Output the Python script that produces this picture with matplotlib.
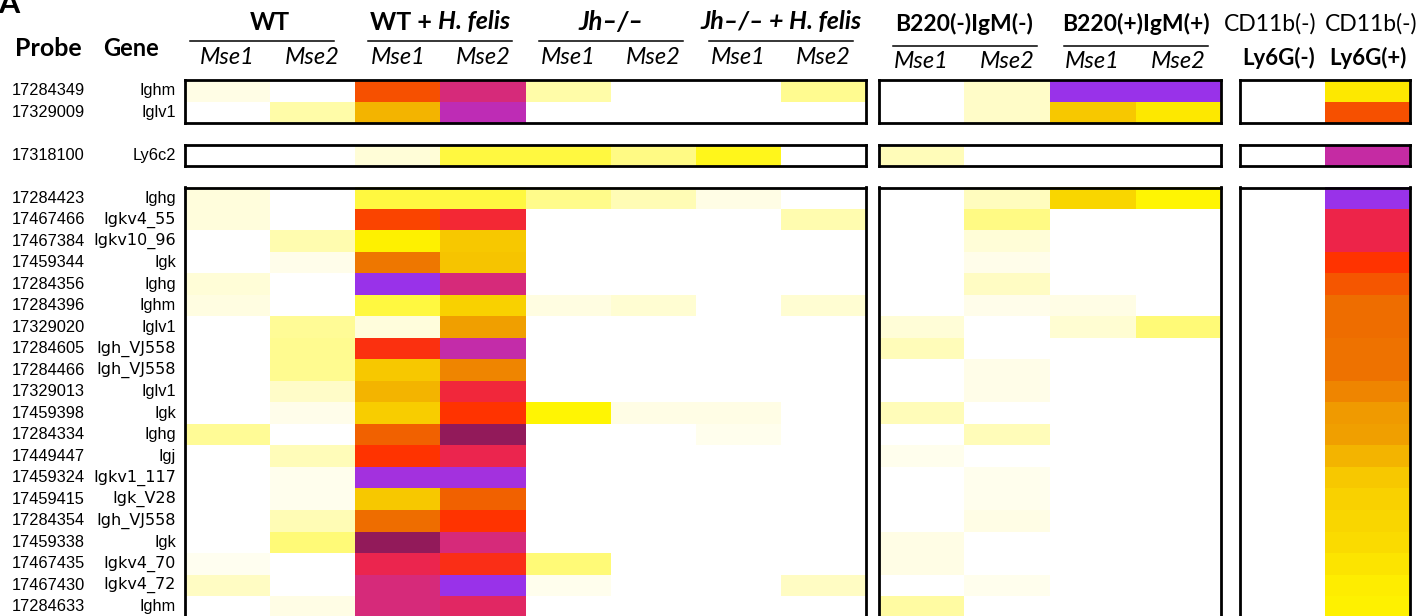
import numpy as np
import matplotlib
matplotlib.use("Agg")
import matplotlib.pyplot as plt
from matplotlib.colors import LinearSegmentedColormap, Normalize

W, H = 1420, 616

# --- data -------------------------------------------------------------
probes_top = ["17284349", "17329009"]
genes_top = ["Ighm", "Iglv1"]
probes_mid = ["17318100"]
genes_mid = ["Ly6c2"]
probes_bot = ["17284423", "17467466", "17467384", "17459344", "17284356",
              "17284396", "17329020", "17284605", "17284466", "17329013",
              "17459398", "17284334", "17449447", "17459324", "17459415",
              "17284354", "17459338", "17467435", "17467430", "17284633"]
genes_bot = ["Ighg", "Igkv4_55", "Igkv10_96", "Igk", "Ighg",
             "Ighm", "Iglv1", "Igh_VJ558", "Igh_VJ558", "Iglv1",
             "Igk", "Ighg", "Igj", "Igkv1_117", "Igk_V28",
             "Igh_VJ558", "Igk", "Igkv4_70", "Igkv4_72", "Ighm"]

samples = ["Mse1", "Mse2"]
cd11b_top = ["CD11b(-)", "CD11b(-)"]
cd11b_bottom = ["Ly6G(-)", "Ly6G(+)"]

# columns: WT1 WT2 WH1 WH2 J1 J2 JH1 JH2 B-1 B-2 B+1 B+2 L- L+
vals_top = [
    [1.0, 0, 7.5, 10.0, 2.2, 0, 0, 2.6, 0, 1.6, 12.0, 12.0, 0, 4.3],
    [0, 2.2, 5.5, 11.0, 0, 0, 0, 0, 0, 1.6, 5.0, 4.3, 0, 7.5],
]
vals_mid = [
    [0, 0, 1.3, 3.5, 3.5, 2.8, 3.8, 0, 1.9, 0, 0, 0, 0, 10.7],
]
vals_bot = [
    [1.2, 0, 3.5, 3.5, 2.7, 2.0, 1.0, 0, 0, 1.8, 4.7, 4.0, 0, 12.0],
    [1.2, 0, 7.7, 8.7, 0, 0, 0, 2.1, 0, 2.8, 0, 0, 0, 9.0],
    [0, 2.1, 4.1, 5.0, 0, 0, 0, 0, 0, 1.3, 0, 0, 0, 9.0],
    [0, 0.8, 6.8, 5.1, 0, 0, 0, 0, 0, 0.8, 0, 0, 0, 8.0],
    [1.3, 0, 12.0, 10.0, 0, 0, 0, 0, 0, 1.7, 0, 0, 0, 7.4],
    [1.1, 0, 3.5, 4.8, 1.1, 1.4, 0, 1.4, 0, 0.8, 1.0, 0, 0, 7.0],
    [0, 2.5, 1.2, 6.0, 0, 0, 0, 0, 1.3, 0, 1.4, 3.0, 0, 7.0],
    [0, 2.6, 8.2, 10.8, 0, 0, 0, 0, 1.9, 0, 0, 0, 0, 6.9],
    [0, 2.6, 5.0, 6.5, 0, 0, 0, 0, 0, 0.9, 0, 0, 0, 6.9],
    [0, 1.6, 5.5, 8.8, 0, 0, 0, 0, 0, 0.9, 0, 0, 0, 6.5],
    [0, 0.8, 4.9, 8.0, 4.0, 1.0, 1.0, 0, 1.9, 0, 0, 0, 0, 6.1],
    [2.5, 0, 7.2, 13.0, 0, 0, 0.7, 0, 0, 1.9, 0, 0, 0, 6.0],
    [0, 1.9, 8.0, 9.1, 0, 0, 0, 0, 0.7, 0, 0, 0, 0, 5.5],
    [0, 0.7, 11.7, 11.7, 0, 0, 0, 0, 0, 0.7, 0, 0, 0, 5.0],
    [0, 0.7, 5.0, 7.2, 0, 0, 0, 0, 0, 0.7, 0, 0, 0, 4.8],
    [0, 2.0, 7.0, 8.0, 0, 0, 0, 0, 0, 1.0, 0, 0, 0, 4.7],
    [0, 3.0, 13.0, 10.0, 0, 0, 0, 0, 1.0, 0, 0, 0, 0, 4.6],
    [0.6, 0, 9.1, 8.3, 3.0, 0, 0, 0, 1.0, 0, 0, 0, 0, 4.4],
    [1.7, 0, 10.0, 12.0, 0.7, 0, 0, 1.7, 0, 0.7, 0, 0, 0, 4.2],
    [0, 1.0, 10.0, 9.5, 0, 0, 0, 0, 2.3, 0, 0, 0, 0, 4.1],
]

# colour scale: white -> yellow -> orange -> red -> magenta -> purple -> maroon
scale_colors = ["#FFFFFF", "#FFFDE4", "#FFFCB4", "#FFFA78", "#FFF500",
                "#F7C800", "#F0A000", "#EE6C00", "#FF3300", "#EE2448",
                "#D62A7A", "#BE2CB4", "#9933EE", "#921A5A"]
cmap = LinearSegmentedColormap.from_list(
    "heat", [(i / (len(scale_colors) - 1), c) for i, c in enumerate(scale_colors)])
norm = Normalize(0, len(scale_colors) - 1)

# --- layout (pixels) --------------------------------------------------
RH = 21.5
Y0 = 80
panels = [(185, 866, slice(0, 8)), (879, 1221, slice(8, 12)), (1240, 1410, slice(12, 14))]
blocks = [(0, vals_top, probes_top, genes_top),
          (3, vals_mid, probes_mid, genes_mid),
          (5, vals_bot, probes_bot, genes_bot)]

HEAD = ["Lato", "DejaVu Sans"]
LAB = ["Liberation Sans", "DejaVu Sans"]

fig = plt.figure(figsize=(W / 100, H / 100), dpi=100)
fig.patch.set_facecolor("white")
tx = fig.add_axes([0, 0, 1, 1])
tx.set_xlim(0, W)
tx.set_ylim(H, 0)
tx.axis("off")

for start, vals, probes, genes in blocks:
    arr = np.array(vals)
    y_top = Y0 + start * RH
    y_bot = y_top + len(vals) * RH
    for x0, x1, sl in panels:
        ax = fig.add_axes([x0 / W, 1 - y_bot / H, (x1 - x0) / W, (y_bot - y_top) / H])
        ax.pcolormesh(arr[:, sl], cmap=cmap, norm=norm)
        ax.set_ylim(len(vals), 0)
        ax.set_xticks([])
        ax.set_yticks([])
        for s in ax.spines.values():
            s.set_linewidth(2.0)
            s.set_color("black")
        if start == 5:
            ax.spines["bottom"].set_visible(False)
    for i, (p, g) in enumerate(zip(probes, genes)):
        yc = y_top + (i + 0.5) * RH
        tx.text(12, yc, p, fontsize=11.8, family=LAB, va="center", ha="left")
        if "_" in g:
            tx.text(176, yc, g, fontsize=11.5, family=["DejaVu Sans"], va="center", ha="right")
        else:
            tx.text(176, yc, g, fontsize=11.8, family=LAB, va="center", ha="right")

renderer = fig.canvas.get_renderer()


def rich_text(xc, y, parts, size):
    objs = []
    for s, style in parts:
        objs.append(tx.text(0, y, s, fontsize=size, fontweight="bold", fontstyle=style,
                            family=HEAD, va="center", ha="left"))
    widths = [t.get_window_extent(renderer).width for t in objs]
    x = xc - sum(widths) / 2
    for t, w in zip(objs, widths):
        t.set_x(x)
        x += w


# top-left letters
tx.text(-2, 13, "A", fontsize=22, fontweight="bold", family=HEAD, va="baseline", ha="left")
tx.text(48, 48, "Probe", fontsize=18, fontweight="bold", family=HEAD, va="center", ha="center")
tx.text(131, 48, "Gene", fontsize=17, fontweight="bold", family=HEAD, va="center", ha="center")

group_parts = [
    [("WT", "normal")],
    [("WT + ", "normal"), ("H. felis", "italic")],
    [("Jh–/–", "italic")],
    [("Jh–/– + H. felis", "italic")],
    [("B220(-)IgM(-)", "normal")],
    [("B220(+)IgM(+)", "normal")],
]
group_size = [17.5, 18, 18.5, 18, 16.5, 16.5]
line_shift = [-8, 0, 0, 0, 0, 0]

col_w1 = (866 - 185) / 8
col_w2 = (1221 - 879) / 4
col_w3 = (1410 - 1240) / 2
for gi in range(6):
    if gi < 4:
        left = 185 + gi * 2 * col_w1
        cw = col_w1
        y_head, y_line, y_sub = 22, 41, 58
    else:
        left = 879 + (gi - 4) * 2 * col_w2
        cw = col_w2
        y_head, y_line, y_sub = 24, 46, 62
    xc = left + cw
    rich_text(xc, y_head, group_parts[gi], group_size[gi])
    lc = xc + line_shift[gi]
    tx.plot([lc - 72, lc + 72], [y_line, y_line], color="black", lw=1.1)
    for k, s in enumerate(samples):
        tx.text(left + (k + 0.5) * cw, y_sub, s, fontsize=17, fontstyle="italic",
                family=HEAD, va="center", ha="center")

for k in range(2):
    xc = 1240 + (k + 0.5) * col_w3
    tx.text(xc - 12 + 16 * k, 24, cd11b_top[k], fontsize=16.5, family=HEAD,
            va="center", ha="center")
    tx.text(xc - 4 + 4 * k, 58, cd11b_bottom[k], fontsize=16, fontweight="bold", family=HEAD,
            va="center", ha="center")

fig.savefig("out.png", dpi=100, facecolor="white")
